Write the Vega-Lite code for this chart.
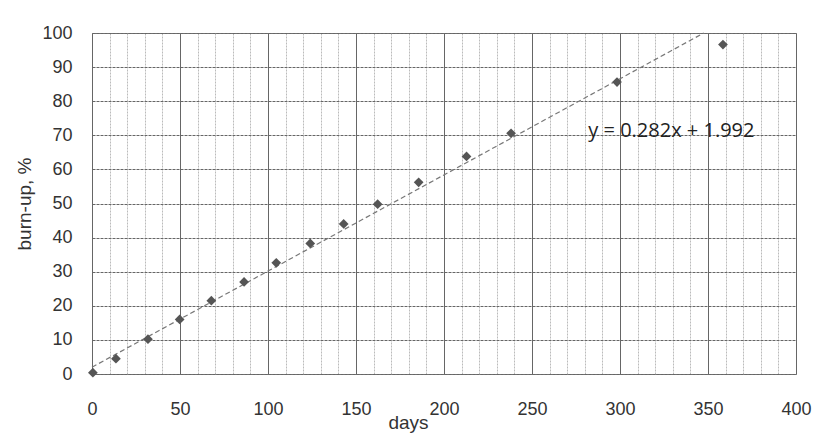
{
  "$schema": "https://vega.github.io/schema/vega-lite/v6.json",
  "width": 704,
  "height": 341,
  "autosize": "none",
  "padding": {"left": 92, "top": 33, "right": 25, "bottom": 61},
  "background": "white",
  "config": {
    "view": {"stroke": "#777", "strokeWidth": 1},
    "axis": {"labelFont": "Liberation Sans Narrow, Liberation Sans", "titleFont": "Liberation Sans Narrow, Liberation Sans", "labelColor": "#333", "titleColor": "#333", "domain": false, "ticks": false, "titleFontWeight": "normal"}
  },
  "datasets": {
    "pts": [
      {"days": 0.5, "burnup": 0.4},
      {"days": 13.6, "burnup": 4.5},
      {"days": 31.8, "burnup": 10.2},
      {"days": 49.8, "burnup": 16.0},
      {"days": 67.8, "burnup": 21.5},
      {"days": 86.4, "burnup": 27.0},
      {"days": 104.7, "burnup": 32.6},
      {"days": 124.0, "burnup": 38.3},
      {"days": 143.0, "burnup": 44.0},
      {"days": 162.3, "burnup": 49.8},
      {"days": 185.6, "burnup": 56.2},
      {"days": 212.8, "burnup": 63.8},
      {"days": 238.1, "burnup": 70.6},
      {"days": 298.3, "burnup": 85.6},
      {"days": 358.5, "burnup": 96.6}
    ],
    "trend": [
      {"days": 0, "burnup": 1.992},
      {"days": 347.6, "burnup": 100}
    ],
    "label": [
      {"days": 282, "burnup": 71.2, "text": "y = 0.282x + 1.992"}
    ]
  },
  "encoding": {
    "x": {"field": "days", "type": "quantitative", "scale": {"domain": [0, 400], "nice": false},
      "axis": {"title": "days", "values": [0,10,20,30,40,50,60,70,80,90,100,110,120,130,140,150,160,170,180,190,200,210,220,230,240,250,260,270,280,290,300,310,320,330,340,350,360,370,380,390,400],
        "labelExpr": "datum.value % 50 === 0 ? datum.label : ''",
        "gridColor": {"condition": {"test": "datum.value % 50 === 0", "value": "#666"}, "value": "#bbb"},
        "gridWidth": 1, "gridDash": {"condition": {"test": "datum.value % 50 === 0", "value": []}, "value": [2, 1]},
        "labelFontSize": 18, "labelPadding": 26, "labelFlush": false, "labelOverlap": false, "titleFontSize": 19,
        "titleX": 316, "titleY": 48, "titleAnchor": "middle", "titleAlign": "center", "titleBaseline": "middle"}},
    "y": {"field": "burnup", "type": "quantitative", "scale": {"domain": [0, 100], "nice": false},
      "axis": {"title": "burn-up, %", "values": [0,10,20,30,40,50,60,70,80,90,100], "gridColor": "#666", "gridDash": [3, 1],
        "labelFontSize": 18, "labelPadding": 20, "labelOverlap": false, "titleFontSize": 19, "titlePadding": 7}}
  },
  "layer": [
    {
      "data": {"name": "trend"},
      "mark": {"type": "line", "color": "#777", "strokeWidth": 1.2, "strokeDash": [5, 3]}
    },
    {
      "data": {"name": "pts"},
      "mark": {"type": "point", "shape": "diamond", "filled": true, "color": "#555", "size": 95, "opacity": 1}
    },
    {
      "data": {"name": "label"},
      "mark": {"type": "text", "align": "left", "baseline": "middle", "font": "Open Sans", "fontSize": 20, "color": "#222"},
      "encoding": {
        "text": {"field": "text"}
      }
    }
  ]
}
